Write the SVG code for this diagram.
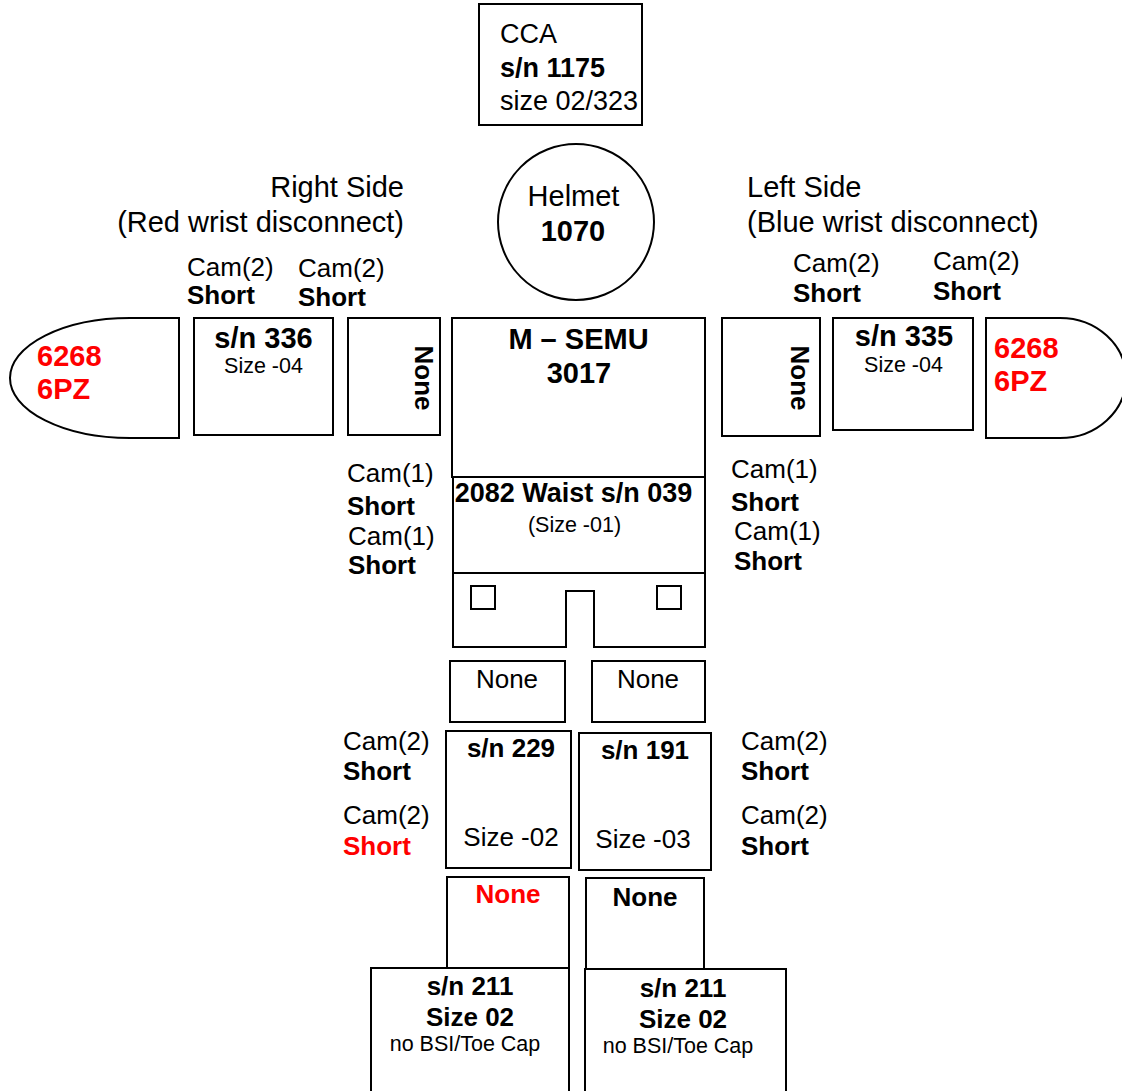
<svg xmlns="http://www.w3.org/2000/svg" width="1122" height="1091" viewBox="0 0 1122 1091">
<style>
text{font-family:"Liberation Sans",Arial,sans-serif;font-size:26px;fill:#000}
.b{font-weight:bold}
.r{fill:#ff0000}
.s{font-size:21.5px}
.h{font-size:29px}
.c{font-size:27px}
.m{text-anchor:middle}
.e{text-anchor:end}
.box{fill:#fff;stroke:#000;stroke-width:2}
</style>
<rect width="1122" height="1091" fill="#fff"/>
<g id="cca"><rect class="box" x="479" y="4" width="163" height="121"/>
<text class="c" x="500" y="43">CCA</text><text class="b c" x="500" y="77">s/n 1175</text><text class="c" x="500" y="110">size 02/323</text></g>
<g id="helmet"><circle class="box" cx="576" cy="222" r="78"/>
<text class="h m" x="573.5" y="206">Helmet</text><text class="b h m" x="573" y="241">1070</text></g>
<g id="right-side-label"><text class="h e" x="404" y="197">Right Side</text><text class="h e" x="404" y="232">(Red wrist disconnect)</text></g>
<g id="left-side-label"><text class="h" x="747" y="197">Left Side</text><text class="h" x="747" y="232">(Blue wrist disconnect)</text></g>
<g id="cam-labels">
<text x="187" y="276">Cam(2)</text><text class="b" x="187" y="304">Short</text>
<text x="298" y="277">Cam(2)</text><text class="b" x="298" y="306">Short</text>
<text x="793" y="272">Cam(2)</text><text class="b" x="793" y="302">Short</text>
<text x="933" y="270">Cam(2)</text><text class="b" x="933" y="300">Short</text>
<text x="347" y="482">Cam(1)</text><text class="b" x="347" y="515">Short</text>
<text x="348" y="545">Cam(1)</text><text class="b" x="348" y="574">Short</text>
<text x="731" y="478">Cam(1)</text><text class="b" x="731" y="511">Short</text>
<text x="734" y="540">Cam(1)</text><text class="b" x="734" y="570">Short</text>
<text x="343" y="750">Cam(2)</text><text class="b" x="343" y="780">Short</text>
<text x="343" y="824">Cam(2)</text><text class="b r" x="343" y="855">Short</text>
<text x="741" y="750">Cam(2)</text><text class="b" x="741" y="780">Short</text>
<text x="741" y="824">Cam(2)</text><text class="b" x="741" y="855">Short</text>
</g>
<g id="right-glove"><path class="box" d="M179,318 L130,318 A120,60 0 0 0 130,438 L179,438 Z"/>
<text class="b r h" x="37" y="366">6268</text><text class="b r h" x="37" y="399">6PZ</text></g>
<g id="right-arm-lower"><rect class="box" x="194" y="318" width="139" height="117"/>
<text class="b h m" x="263.5" y="348">s/n 336</text><text class="s m" x="263.5" y="373">Size -04</text></g>
<g id="right-arm-upper"><rect class="box" x="348" y="318" width="92" height="117"/>
<text class="b m" transform="translate(415,378) rotate(90)">None</text></g>
<g id="torso"><rect class="box" x="452" y="318" width="253" height="159"/>
<text class="b h m" x="578.5" y="349">M – SEMU</text><text class="b h m" x="579" y="383">3017</text></g>
<g id="waist"><path class="box" d="M453,477 L705,477 L705,647 L594,647 L594,591 L566,591 L566,647 L453,647 Z"/>
<line x1="453" y1="573" x2="705" y2="573" stroke="#000" stroke-width="2"/>
<rect class="box" x="471" y="586" width="24" height="23"/>
<rect class="box" x="657" y="586" width="24" height="23"/>
<text class="b c m" x="573.5" y="502">2082 Waist s/n 039</text><text class="s m" x="574.5" y="532">(Size -01)</text></g>
<g id="left-arm-upper"><rect class="box" x="722" y="318" width="98" height="118"/>
<text class="b m" transform="translate(791,378) rotate(90)">None</text></g>
<g id="left-arm-lower"><rect class="box" x="833" y="318" width="140" height="112"/>
<text class="b h m" x="904" y="346">s/n 335</text><text class="s m" x="903.5" y="372">Size -04</text></g>
<g id="left-glove"><path class="box" d="M986,318 L1060,318 A66,60 0 0 1 1060,438 L986,438 Z"/>
<text class="b r h" x="994" y="358">6268</text><text class="b r h" x="994" y="391">6PZ</text></g>
<g id="right-thigh"><rect class="box" x="450" y="661" width="115" height="61"/><text class="m" x="507" y="688">None</text></g>
<g id="left-thigh"><rect class="box" x="592" y="661" width="113" height="61"/><text class="m" x="648" y="688">None</text></g>
<g id="right-shin"><rect class="box" x="446" y="731" width="125" height="137"/>
<text class="b m" x="511" y="757">s/n 229</text><text class="m" x="511" y="846">Size -02</text></g>
<g id="left-shin"><rect class="box" x="579" y="733" width="132" height="137"/>
<text class="b m" x="645" y="759">s/n 191</text><text class="m" x="643" y="848">Size -03</text></g>
<g id="right-ankle"><rect class="box" x="447" y="877" width="122" height="92"/><text class="b r m" x="508" y="903">None</text></g>
<g id="left-ankle"><rect class="box" x="586" y="878" width="118" height="91"/><text class="b m" x="645" y="906">None</text></g>
<g id="right-boot"><rect class="box" x="371" y="968" width="198" height="130"/>
<text class="b m" x="470" y="995">s/n 211</text><text class="b m" x="470" y="1026">Size 02</text><text class="s m" x="465" y="1051">no BSI/Toe Cap</text></g>
<g id="left-boot"><rect class="box" x="585" y="969" width="201" height="130"/>
<text class="b m" x="683" y="997">s/n 211</text><text class="b m" x="683" y="1028">Size 02</text><text class="s m" x="678" y="1053">no BSI/Toe Cap</text></g>
<g id="connectors"></g>
</svg>
